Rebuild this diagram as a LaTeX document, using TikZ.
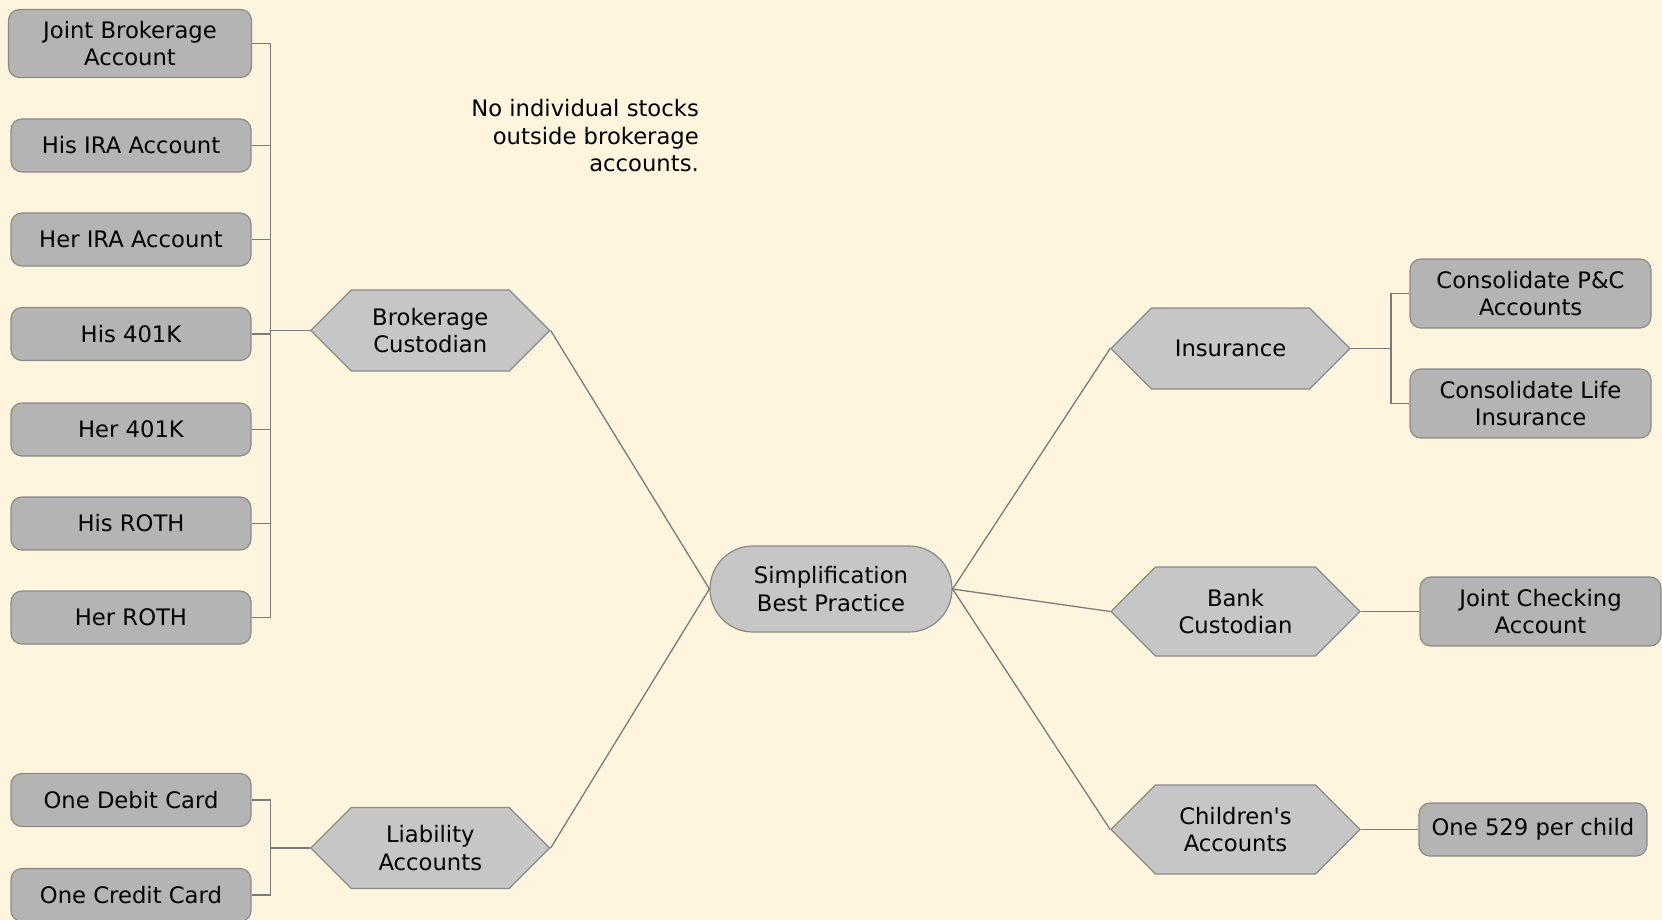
\documentclass[tikz,border=0pt]{standalone}
\usepackage{fontspec}
\setmainfont{DejaVu Sans}
\usetikzlibrary{shapes.misc,shapes.symbols}
\definecolor{paper}{HTML}{FFF5DE}
\definecolor{leaffill}{HTML}{B4B4B4}
\definecolor{hubfill}{HTML}{C6C6C6}
\definecolor{edgegray}{HTML}{8A8A8A}
\definecolor{wiregray}{HTML}{7A7A7A}
\begin{document}
\begin{tikzpicture}[x=1pt, y=-1pt, font=\fontsize{22.7}{27.5}\selectfont]
    % Simplification mind map: custodians and the accounts they hold
    \tikzset{leaf/.style={draw=edgegray, fill=leaffill, rounded corners=11pt, line width=1.2pt, minimum width=240pt, minimum height=53pt, inner sep=0pt, align=center},
             hub/.style={signal, signal to=west and east, signal pointer angle=90, draw=edgegray, fill=hubfill, line width=1.2pt, minimum width=239pt, minimum height=81pt, inner sep=0pt, align=center},
             core/.style={rounded rectangle, draw=edgegray, fill=hubfill, line width=1.2pt, minimum width=242pt, minimum height=86pt, inner sep=0pt, align=center},
             wire/.style={draw=wiregray, line width=1.3pt}}
    \path[use as bounding box, fill=paper] (0,0) rectangle (1662,920);
    \node[core] (core) at (831,589) {Simplification\\Best Practice};
    \node[hub] (broker) at (430.3,330.5) {Brokerage\\Custodian};
    \node[hub] (liab) at (430.3,848) {Liability\\Accounts};
    \node[hub] (insur) at (1230.5,348.5) {Insurance};
    \node[hub, minimum width=249pt, minimum height=89pt] (bank) at (1235.5,611.5) {Bank\\Custodian};
    \node[hub, minimum width=249pt, minimum height=89pt] (kids) at (1235.5,829.5) {Children\textquotesingle s\\Accounts};
    \node[leaf, minimum width=243pt, minimum height=68pt] (joint) at (130,43.5) {Joint Brokerage\\Account};
    \node[leaf] (hisira) at (131,145.5) {His IRA Account};
    \node[leaf] (herira) at (131,239.5) {Her IRA Account};
    \node[leaf] (his401) at (131,334) {His 401K};
    \node[leaf] (her401) at (131,429.5) {Her 401K};
    \node[leaf] (hisroth) at (131,523.5) {His ROTH};
    \node[leaf] (herroth) at (131,617.5) {Her ROTH};
    \node[leaf] (debit) at (131,800) {One Debit Card};
    \node[leaf] (credit) at (131,895) {One Credit Card};
    \node[leaf, minimum width=241pt, minimum height=69pt] (pc) at (1530.5,293.5) {Consolidate P\&C\\Accounts};
    \node[leaf, minimum width=241pt, minimum height=69pt] (life) at (1530.5,403.5) {Consolidate Life\\Insurance};
    \node[leaf, minimum width=241pt, minimum height=69pt] (check) at (1540.5,611.5) {Joint Checking\\Account};
    \node[leaf, minimum width=228pt] (five) at (1533,829.5) {One 529 per child};
    \node[align=right, anchor=east, inner sep=0pt] (note) at (699,136) {No individual stocks\\outside brokerage\\accounts.};
    \foreach \leafname in {joint,hisira,herira,his401,her401,hisroth,herroth}
        \draw[wire] (broker.west) -- ++(-39.6,0) |- (\leafname.east);
    \foreach \leafname in {debit,credit}
        \draw[wire] (liab.west) -- ++(-39.6,0) |- (\leafname.east);
    \foreach \leafname in {pc,life}
        \draw[wire] (insur.east) -- ++(40,0) |- (\leafname.west);
    \draw[wire] (bank.east) -- (check.west);
    \draw[wire] (kids.east) -- (five.west);
    \foreach \hubname in {broker,liab}
        \draw[wire] (core.west) -- (\hubname.east);
    \foreach \hubname in {insur,bank,kids}
        \draw[wire] (core.east) -- (\hubname.west);
\end{tikzpicture}
\end{document}
